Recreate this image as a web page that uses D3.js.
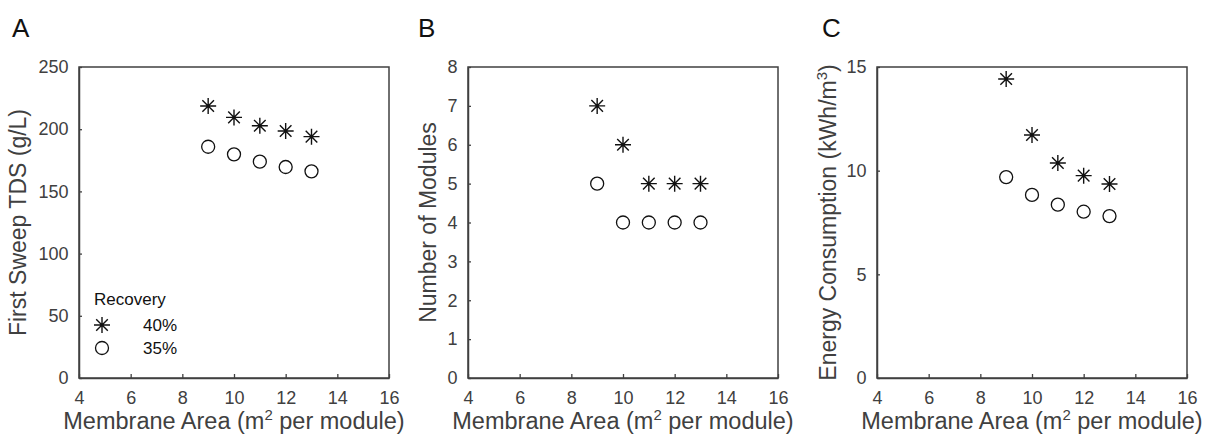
<!DOCTYPE html>
<html>
<head>
<meta charset="utf-8">
<script src="https://cdn.jsdelivr.net/npm/d3@7"></script>
<style>
	body { margin: 0; background: white; }
	text { font-family: "Liberation Sans", Arial, sans-serif; }
</style>
</head>
<body>
<div id="chart"></div>
<script>
const area = [9, 10, 11, 12, 13];
const xTicks = [4, 6, 8, 10, 12, 14, 16];

const tds40 = [218.6, 209.5, 202.8, 198.5, 194.0];
const tds35 = [185.9, 179.8, 173.9, 169.6, 166.1];
const modules40 = [7, 6, 5, 5, 5];
const modules35 = [5, 4, 4, 4, 4];
const energy40 = [14.42, 11.72, 10.37, 9.76, 9.36];
const energy35 = [9.69, 8.83, 8.36, 8.02, 7.81];

const legendTitle = "Recovery";
const legendLabels = ["40%", "35%"];

const W = 1205, H = 441;
const axisColor = "#404040";
const panelW = 310, panelH = 311, panelTop = 67;

const svg = d3
	.select("#chart")
	.append("svg")
	.attr("width", W)
	.attr("height", H);

const panels = [
	{ letter: "A", letterX: 12, left: 79, ylabelX: -61, ymax: 250, yticks: [0, 50, 100, 150, 200, 250], s40: tds40, s35: tds35, ylabel: "First Sweep TDS (g/L)", legend: true },
	{ letter: "B", letterX: 418, left: 468, ylabelX: -40, ymax: 8, yticks: [0, 1, 2, 3, 4, 5, 6, 7, 8], s40: modules40, s35: modules35, ylabel: "Number of Modules" },
	{ letter: "C", letterX: 822, left: 877, ylabelX: -49, ymax: 15, yticks: [0, 5, 10, 15], s40: energy40, s35: energy35, ylabel: "Energy Consumption (kWh/m", sup: "3", ylabelEnd: ")" },
];

// asterisk marker: plus + x
function star(g, cx, cy) {
	const r = 8, d = 5.8;
	g.append("path")
		.attr("d", `M${cx - r},${cy}H${cx + r}M${cx},${cy - r}V${cy + r}` +
			`M${cx - d},${cy - d}L${cx + d},${cy + d}M${cx - d},${cy + d}L${cx + d},${cy - d}`)
		.attr("stroke", "#111")
		.attr("stroke-width", 1.4)
		.attr("fill", "none");
}

function circ(g, cx, cy) {
	g.append("circle")
		.attr("cx", cx)
		.attr("cy", cy)
		.attr("r", 6.5)
		.attr("stroke", "#111")
		.attr("stroke-width", 1.3)
		.attr("fill", "none");
}

panels.forEach((p) => {
	const g = svg.append("g").attr("transform", `translate(${p.left},${panelTop})`);

	const x = d3.scaleLinear().domain([4, 16]).range([0, panelW]);
	const y = d3.scaleLinear().domain([0, p.ymax]).range([panelH, 0]);

	// box
	g.append("rect")
		.attr("width", panelW)
		.attr("height", panelH)
		.attr("fill", "none")
		.attr("stroke", axisColor)
		.attr("stroke-width", 1.5);

	const xAxis = g
		.append("g")
		.attr("transform", `translate(0,${panelH})`)
		.call(d3.axisBottom(x).tickValues(xTicks).tickSizeInner(-4).tickSizeOuter(0).tickPadding(13));

	const yAxis = g
		.append("g")
		.call(d3.axisLeft(y).tickValues(p.yticks).tickSizeInner(-3).tickSizeOuter(0).tickPadding(10.5));

	[xAxis, yAxis].forEach((a) => {
		a.attr("font-size", 18).attr("font-family", '"Liberation Sans", Arial, sans-serif');
		a.select(".domain").attr("stroke", axisColor).attr("stroke-width", 1.5);
		a.selectAll(".tick line").attr("stroke", axisColor).attr("stroke-width", 1.3);
		a.selectAll(".tick text").attr("fill", axisColor);
	});

	// panel letter
	svg.append("text")
		.attr("x", p.letterX)
		.attr("y", 37)
		.attr("fill", "#111")
		.style("font-size", "26px")
		.text(p.letter);

	// x label
	const xl = g.append("text")
		.attr("x", panelW / 2)
		.attr("y", panelH + 51)
		.attr("text-anchor", "middle")
		.attr("fill", axisColor)
		.style("font-size", "23.5px");
	xl.append("tspan").text("Membrane Area (m");
	xl.append("tspan").attr("dy", -9).style("font-size", "15px").text("2");
	xl.append("tspan").attr("dy", 9).text(" per module)");

	// y label
	const yl = g.append("text")
		.attr("transform", `translate(${p.ylabelX},${panelH / 2}) rotate(-90)`)
		.attr("text-anchor", "middle")
		.attr("dy", "0.35em")
		.attr("fill", axisColor)
		.style("font-size", "23px");
	yl.append("tspan").text(p.ylabel);
	if (p.sup) {
		yl.append("tspan").attr("dy", -9).style("font-size", "15px").text(p.sup);
		yl.append("tspan").attr("dy", 9).text(p.ylabelEnd);
	}

	area.forEach((a, i) => {
		star(g, x(a), y(p.s40[i]));
		circ(g, x(a), y(p.s35[i]));
	});

	if (p.legend) {
		g.append("text")
			.attr("x", 15)
			.attr("y", 238)
			.attr("fill", "#111")
			.style("font-size", "17px")
			.text(legendTitle);
		star(g, 23, 258);
		circ(g, 23, 281);
		legendLabels.forEach((l, i) => {
			g.append("text")
				.attr("x", 64)
				.attr("y", 264 + i * 23)
				.attr("fill", "#111")
				.style("font-size", "17px")
				.text(l);
		});
	}
});
</script>
</body>
</html>
